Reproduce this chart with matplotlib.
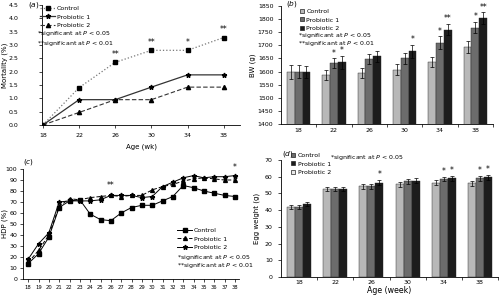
import matplotlib
matplotlib.use("Agg")
import matplotlib.pyplot as plt
from matplotlib.lines import Line2D
import numpy as np

# ---- data ----
weeks = [18, 22, 26, 30, 34, 38]

# (a) mortality
mort_control = [0.0, 1.4, 2.35, 2.8, 2.8, 3.28]
mort_p1 = [0.0, 0.95, 0.95, 1.42, 1.88, 1.88]
mort_p2 = [0.0, 0.47, 0.95, 0.95, 1.42, 1.42]
mort_sig = ["", "", "**", "**", "*", "**"]

# (b) body weight
bw_control = [1598, 1587, 1595, 1607, 1637, 1695]
bw_p1 = [1600, 1632, 1648, 1650, 1710, 1768]
bw_p2 = [1598, 1635, 1658, 1677, 1760, 1805]
bw_err_control = [27, 20, 20, 22, 20, 23]
bw_err_p1 = [25, 18, 20, 20, 25, 22]
bw_err_p2 = [22, 25, 20, 25, 22, 22]
bw_sig_p1 = ["", "*", "", "", "*", "*"]
bw_sig_p2 = ["", "*", "", "*", "**", "**"]

# (c) hen-day production
hdp_weeks = list(range(18, 39))
hdp_control = [14, 23, 38, 65, 71, 72, 59, 54, 53, 60, 65, 67, 67, 71, 75, 85, 83, 80, 78, 76, 75]
hdp_p1 = [15, 26, 40, 66, 73, 72, 74, 75, 76, 75, 76, 76, 81, 84, 86, 89, 91, 92, 91, 90, 90]
hdp_p2 = [18, 32, 42, 70, 71, 71, 71, 72, 76, 76, 76, 74, 75, 84, 88, 92, 94, 92, 93, 93, 94]

# (d) egg weight
ew_control = [42.0, 52.5, 54.3, 55.5, 56.5, 56.0]
ew_p1 = [42.0, 52.8, 54.3, 57.3, 58.5, 59.2]
ew_p2 = [43.5, 52.5, 56.5, 57.5, 59.0, 59.7]
ew_err = [1.3, 1.3, 1.5, 1.5, 1.3, 1.5]
ew_sig_p1 = ["", "", "", "", "*", "*"]
ew_sig_p2 = ["", "", "*", "", "*", "*"]

W, H = 500, 296
FS = 4.5
SFS = 5.5
C_LIGHT, C_MID, C_DARK = "#b8b8b8", "#6c6c6c", "#1c1c1c"

plt.rcParams["font.family"] = "DejaVu Sans"
fig = plt.figure(figsize=(W / 100, H / 100), dpi=100)


def ax_px(left, top, right, bottom):
    return fig.add_axes([left / W, 1 - bottom / H, (right - left) / W, (bottom - top) / H])


def ftext(x, y, s, **kw):
    kw.setdefault("fontsize", FS)
    kw.setdefault("va", "center")
    fig.text(x / W, 1 - y / H, s, **kw)


def flegend(handles, x, y, **kw):
    # legend placed by pixel position of its top-left corner
    opts = dict(loc="upper left", bbox_to_anchor=(x / W, 1 - y / H), frameon=False,
                fontsize=FS, borderpad=0, borderaxespad=0, handletextpad=0.3)
    opts.update(kw)
    fig.legend(handles, ["Control", "Probiotic 1", "Probiotic 2"], **opts)


def style(ax, ypad=1.5, xpad=1.5):
    for s in ["top", "right"]:
        ax.spines[s].set_visible(False)
    for s in ["left", "bottom"]:
        ax.spines[s].set_linewidth(0.6)
    ax.tick_params(labelsize=FS, width=0.5, length=2)
    ax.tick_params(axis="y", pad=ypad)
    ax.tick_params(axis="x", pad=xpad)


def ylabel_px(ax, text, x_right):
    # put the y label so that its right edge sits at pixel column x_right
    ax.set_ylabel(text, fontsize=FS + 0.5)
    bb = ax.get_position()
    ax.yaxis.set_label_coords((x_right / W - bb.x0) / bb.width, 0.5)


sig_txt = ["*significant at $P$ < 0.05", "**significant at $P$ < 0.01"]

# ---- (a) ----
ax = ax_px(42, 5, 240, 125)
style(ax, ypad=15, xpad=4)
ax.plot(weeks, mort_control, color="#777777", ls=":", lw=0.9, marker="s", ms=3, mfc="k", mec="k")
ax.plot(weeks, mort_p1, color="#333333", ls="-", lw=0.9, marker="*", ms=3.5, mfc="k", mec="k")
ax.plot(weeks, mort_p2, color="#333333", ls=(0, (4, 2)), lw=0.8, marker="^", ms=3, mfc="k", mec="k")
for w, v, s in zip(weeks, mort_control, mort_sig):
    if s:
        ax.text(w, v + 0.12, s, ha="center", va="bottom", fontsize=SFS)
ax.set_xlim(17.9, 39.8)
ax.set_ylim(0, 4.5)
ax.set_xticks(weeks)
ax.set_yticks(np.arange(0, 4.51, 0.5))
ax.yaxis.set_major_formatter(matplotlib.ticker.FormatStrFormatter("%.1f"))
ylabel_px(ax, "Mortality (%)", 8)
ax.set_xlabel("Age (wk)", fontsize=FS + 0.5, labelpad=4)
ftext(28, 5, "($a$)", fontsize=FS + 0.8)
handles = [
    Line2D([], [], color="#777777", ls=":", lw=0.9, marker="s", ms=3, mfc="k", mec="k"),
    Line2D([], [], color="#333333", lw=0.9, marker="*", ms=3.5, mfc="k", mec="k"),
    Line2D([], [], color="#333333", ls=(0, (4, 2)), lw=0.8, marker="^", ms=3, mfc="k", mec="k"),
]
flegend(handles, 40, 6, handlelength=2.4, labelspacing=0.45)
ftext(37, 34, sig_txt[0])
ftext(37, 43, sig_txt[1])


def grouped(ax, c, p1, p2, ec, e1, e2, s1, s2, off):
    x = np.arange(len(weeks))
    bw = 0.22
    for dx, vals, errs, col in [(-bw, c, ec, C_LIGHT), (0, p1, e1, C_MID), (bw, p2, e2, C_DARK)]:
        ax.bar(x + dx, vals, width=bw, color=col, edgecolor="#222222", lw=0.3,
               yerr=errs, error_kw=dict(ecolor="k", elinewidth=0.5, capsize=1.5, capthick=0.5))
    for i in range(len(weeks)):
        if s1[i]:
            ax.text(x[i], p1[i] + e1[i] + off, s1[i], ha="center", va="bottom", fontsize=SFS)
        if s2[i]:
            ax.text(x[i] + bw, p2[i] + e2[i] + off, s2[i], ha="center", va="bottom", fontsize=SFS)
    ax.set_xlim(-0.5, len(weeks) - 0.5)
    ax.set_xticks(x)
    ax.set_xticklabels([str(w) for w in weeks])
    ax.set_xticks(np.arange(0.5, len(weeks), 1), minor=True)
    ax.tick_params(axis="x", which="major", length=0, pad=3)
    ax.tick_params(axis="x", which="minor", length=2, width=0.5)


def squares(colors):
    return [Line2D([], [], ls="", marker="s", ms=3, mfc=col, mec="#222222", mew=0.5) for col in colors]


# ---- (b) ----
ax = ax_px(281, 6, 493, 124)
style(ax, ypad=3.5)
grouped(ax, bw_control, bw_p1, bw_p2, bw_err_control, bw_err_p1, bw_err_p2, bw_sig_p1, bw_sig_p2, 2)
ax.set_ylim(1400, 1850)
ax.set_yticks(np.arange(1400, 1851, 50))
ylabel_px(ax, "BW (g)", 256)
ftext(286, 4, "($b$)", fontsize=FS + 0.8)
flegend(squares([C_LIGHT, C_MID, C_DARK]), 299, 9, handlelength=0.9, labelspacing=0.45)
ftext(298, 36, sig_txt[0])
ftext(298, 43.5, sig_txt[1])

# ---- (c) ----
ax = ax_px(23, 169, 239, 279)
style(ax, ypad=2)
ax.plot(hdp_weeks, hdp_control, color="k", lw=0.7, marker="s", ms=2.8)
ax.plot(hdp_weeks, hdp_p1, color="k", ls=(0, (4, 2)), lw=0.7, marker="^", ms=2.8)
ax.plot(hdp_weeks, hdp_p2, color="k", lw=0.7, marker="*", ms=3.5)
ax.text(26, 81, "**", ha="center", va="bottom", fontsize=SFS)
ax.text(38, 97, "*", ha="center", va="bottom", fontsize=SFS)
ax.set_xlim(17.5, 38.4)
ax.set_ylim(0, 100)
ax.set_xticks(hdp_weeks)
ax.set_yticks(np.arange(0, 101, 10))
ax.tick_params(axis="x", labelsize=3.8, pad=2)
ylabel_px(ax, "HDP (%)", 8)
ftext(23, 162, "($c$)", fontsize=FS + 0.8)
handles = [
    Line2D([], [], color="k", lw=0.7, marker="s", ms=2.8),
    Line2D([], [], color="k", ls=(0, (4, 2)), lw=0.7, marker="^", ms=2.8),
    Line2D([], [], color="k", lw=0.7, marker="*", ms=3.5),
]
flegend(handles, 177, 228, handlelength=2.4, labelspacing=0.45)
ftext(177, 258, sig_txt[0])
ftext(177, 265.5, sig_txt[1])

# ---- (d) ----
ax = ax_px(281, 160, 498, 277)
style(ax, ypad=4)
grouped(ax, ew_control, ew_p1, ew_p2, ew_err, ew_err, ew_err, ew_sig_p1, ew_sig_p2, 0.5)
ax.tick_params(axis="x", which="major", pad=2)
ax.set_ylim(0, 70)
ax.set_yticks(np.arange(0, 71, 10))
ylabel_px(ax, "Egg weight (g)", 260)
ax.set_xlabel("Age (week)", fontsize=FS + 1.2, labelpad=1)
ftext(282, 154, "($d$)", fontsize=FS + 0.8)
# legend colours as printed in the source figure
flegend(squares([C_MID, C_DARK, "#e8e8e8"]), 290, 153, handlelength=0.9, labelspacing=0.45)
ftext(330, 157, "*significant at $P$ < 0.05")

fig.savefig("out.png", dpi=100)
